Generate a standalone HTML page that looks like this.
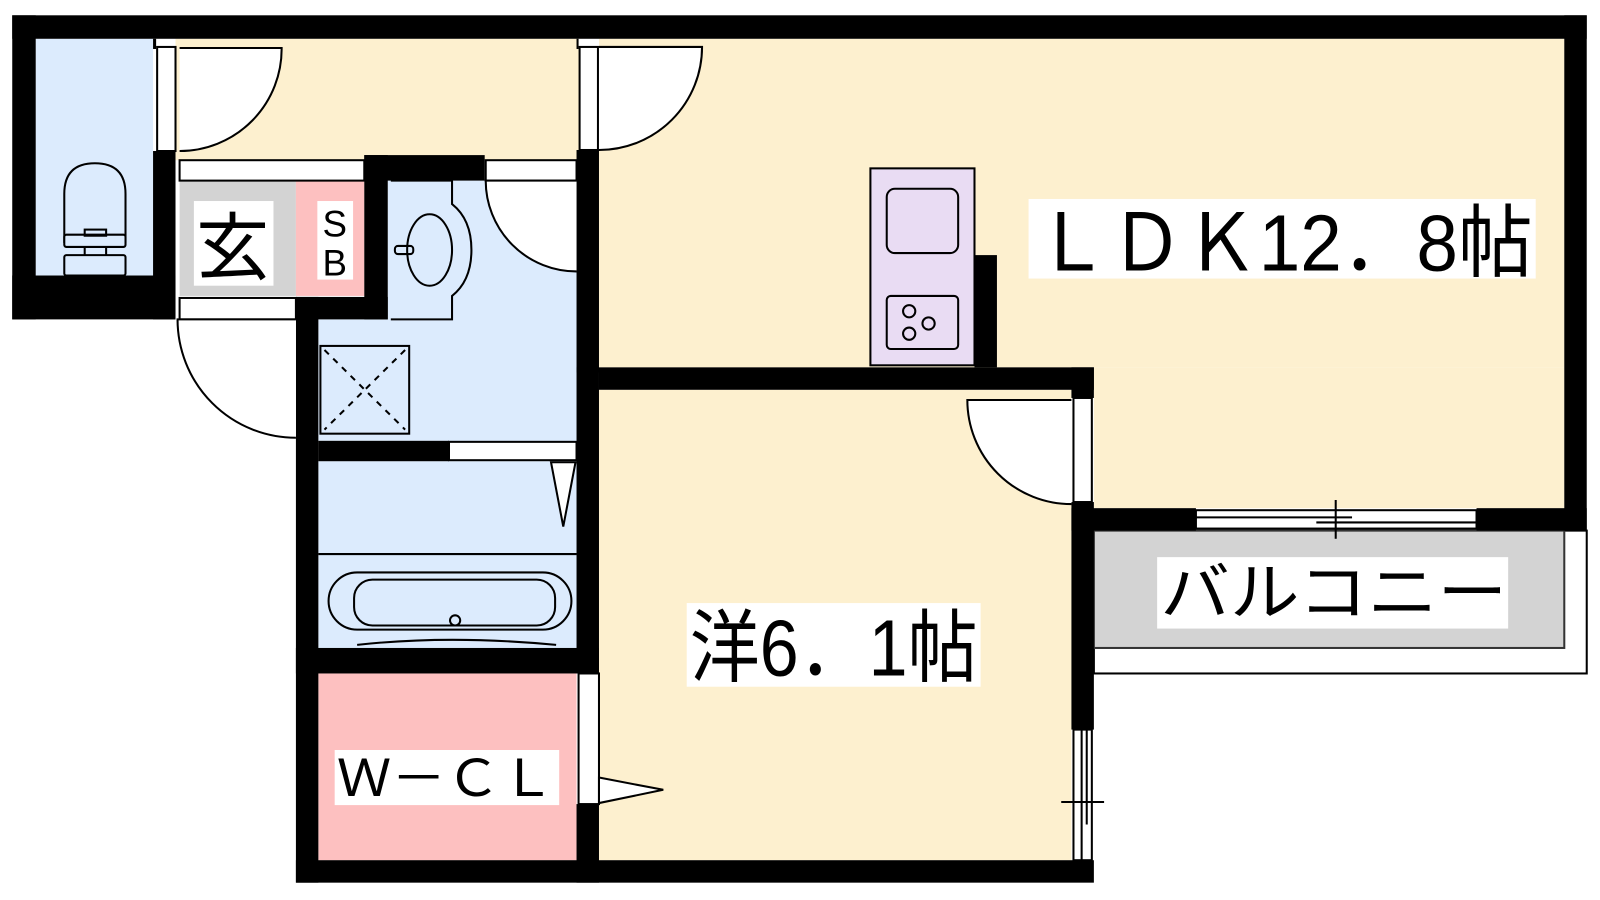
<!DOCTYPE html>
<html><head><meta charset="utf-8"><style>
html,body{margin:0;padding:0;background:#fff;width:1600px;height:900px;overflow:hidden}
svg{display:block}
text{font-family:"Liberation Sans","Noto Sans CJK JP",sans-serif;fill:#000}
</style></head><body>
<svg width="1600" height="900" viewBox="0 0 1568 882" preserveAspectRatio="none" xmlns="http://www.w3.org/2000/svg">
<rect width="1568" height="882" fill="#fff"/>
<!-- floors -->
<rect x="35" y="38" width="115" height="232" fill="#dcebfd"/>
<rect x="172" y="38" width="395" height="119" fill="#fdf0cf"/>
<rect x="587" y="38" width="946" height="322" fill="#fdf0cf"/>
<rect x="1072" y="360" width="461" height="138" fill="#fdf0cf"/>
<rect x="587" y="382" width="463" height="461" fill="#fdf0cf"/>
<rect x="176" y="177" width="114" height="113" fill="#d3d3d3"/>
<rect x="290" y="177" width="67" height="113" fill="#fdc0c0"/>
<rect x="380" y="177" width="185" height="255" fill="#dcebfd"/>
<rect x="312" y="313" width="253" height="119" fill="#dcebfd"/>
<rect x="312" y="452" width="253" height="183" fill="#dcebfd"/>
<rect x="312" y="660" width="253" height="183" fill="#fdc0c0"/>
<!-- balcony -->
<rect x="1072" y="520" width="483" height="140" fill="#fff" stroke="#000" stroke-width="2"/>
<rect x="1072" y="520" width="461" height="115" fill="#d3d3d3" stroke="#333" stroke-width="2"/>
<!-- walls -->
<g fill="#000">
<rect x="12" y="15" width="1543" height="23"/>
<rect x="1533" y="15" width="22" height="505"/>
<rect x="12" y="15" width="23" height="298"/>
<rect x="12" y="270" width="160" height="43"/>
<rect x="150" y="148" width="22" height="165"/>
<rect x="150" y="38" width="3" height="10"/>
<rect x="357" y="152" width="118" height="25"/>
<rect x="357" y="152" width="23" height="161"/>
<rect x="290" y="291" width="90" height="22"/>
<rect x="290" y="291" width="22" height="574"/>
<rect x="565" y="147" width="22" height="218"/>
<rect x="565" y="38" width="2" height="10"/>
<rect x="312" y="432" width="128" height="20"/>
<rect x="565" y="360" width="22" height="300"/>
<rect x="290" y="635" width="297" height="25"/>
<rect x="565" y="788" width="22" height="77"/>
<rect x="290" y="843" width="782" height="22"/>
<rect x="587" y="360" width="485" height="22"/>
<rect x="1050" y="360" width="22" height="30"/>
<rect x="1050" y="492" width="22" height="223"/>
<rect x="1050" y="498" width="122" height="22"/>
<rect x="1447" y="498" width="108" height="22"/>
<rect x="955" y="250" width="22" height="110"/>
</g>
<!-- door frames / windows -->
<g fill="#fff" stroke="#000" stroke-width="2">
<rect x="154" y="46" width="18" height="102"/>
<rect x="568" y="46" width="18" height="101"/>
<rect x="176" y="157" width="181" height="20"/>
<rect x="476" y="157" width="89" height="20"/>
<rect x="176" y="292" width="114" height="21"/>
<rect x="440" y="433" width="125" height="18"/>
<rect x="567" y="660" width="20" height="128"/>
<rect x="1052" y="390" width="18" height="102"/>
<rect x="1172" y="500" width="275" height="18"/>
<rect x="1052" y="715" width="18" height="128"/>
</g>
<g stroke="#000" stroke-width="2" fill="none">
<line x1="1172" y1="507" x2="1325" y2="507"/>
<line x1="1290" y1="512" x2="1447" y2="512"/>
<line x1="1309" y1="490" x2="1309" y2="528"/>
<line x1="1060" y1="715" x2="1060" y2="843"/>
<line x1="1065" y1="715" x2="1065" y2="808"/>
<line x1="1040" y1="786" x2="1082" y2="786"/>
<!-- door swings -->
<path d="M176,47 L276,47 A100,100 0 0 1 176,148" fill="#fff"/>
<path d="M587,46 L688,46 A101,101 0 0 1 587,147" fill="#fff"/>
<path d="M565,177 L476,177 A89,89 0 0 0 565,266" fill="#fff"/>
<path d="M290,313 L174,313 A116,116 0 0 0 290,429" fill="#fff"/>
<path d="M1050,392 L948,392 A102,102 0 0 0 1050,494" fill="#fff"/>
<path d="M540,453 L564,453 L552,516 Z" fill="#fff"/>
<path d="M587,762 L650,774 L587,787 Z" fill="#fff"/>
<!-- toilet -->
<path d="M63,238 L63,190 Q63,160 93,160 Q123,160 123,190 L123,238" fill="#dcebfd"/>
<rect x="63" y="230" width="60" height="12" rx="2" fill="#dcebfd"/>
<rect x="83" y="225" width="21" height="6"/>
<rect x="63" y="250" width="60" height="20" rx="2"/>
<line x1="83" y1="242" x2="83" y2="250"/><line x1="104" y1="242" x2="104" y2="250"/>
<!-- vanity -->
<path d="M383,177 L443,177 L443,200 Q462,215 462,245 Q462,275 443,290 L443,313 L383,313" />
<ellipse cx="421" cy="245" rx="22" ry="35"/>
<rect x="387" y="241" width="18" height="8" rx="3"/>
<!-- shower pan -->
<rect x="314" y="339" width="87" height="86"/>
<path d="M318,343 L397,421 M397,343 L318,421" stroke-dasharray="6,6"/>
<!-- bath -->
<line x1="312" y1="543" x2="565" y2="543"/>
<rect x="327" y="561" width="238" height="56" rx="28" transform="translate(-5,0)"/>
<rect x="347" y="568" width="197" height="45" rx="18"/>
<circle cx="446" cy="608" r="5"/>
<path d="M350,632 Q440,622 545,632"/>
<!-- kitchen -->
<rect x="853" y="165" width="102" height="193" fill="#e9dcf3"/>
<rect x="869" y="185" width="70" height="63" rx="8"/>
<rect x="869" y="290" width="70" height="52" rx="4"/>
<circle cx="891" cy="305" r="6"/><circle cx="891" cy="327" r="6"/><circle cx="910" cy="317" r="6"/>
</g>
<!-- labels -->
<rect x="1008" y="195" width="497" height="78" fill="#fff"/>
<text x="1014" y="265" font-size="78" textLength="488" lengthAdjust="spacingAndGlyphs">ＬＤＫ12．8帖</text>
<rect x="673" y="591" width="288" height="82" fill="#fff"/>
<text x="676" y="662" font-size="78" textLength="282" lengthAdjust="spacingAndGlyphs">洋6．1帖</text>
<rect x="1134" y="546" width="344" height="70" fill="#fff"/>
<text x="1137" y="602" font-size="62" textLength="340" lengthAdjust="spacingAndGlyphs">バルコニー</text>
<rect x="328" y="735" width="220" height="54" fill="#fff"/>
<text x="330" y="780" font-size="50" textLength="214" lengthAdjust="spacingAndGlyphs">Ｗ－ＣＬ</text>
<rect x="190" y="197" width="78" height="83" fill="#fff"/>
<text x="192" y="268" font-size="72">玄</text>
<rect x="311" y="197" width="35" height="77" fill="#fff"/>
<text x="328" y="232" font-size="36" text-anchor="middle">S</text>
<text x="328" y="270" font-size="36" text-anchor="middle">B</text>
</svg>
</body></html>
